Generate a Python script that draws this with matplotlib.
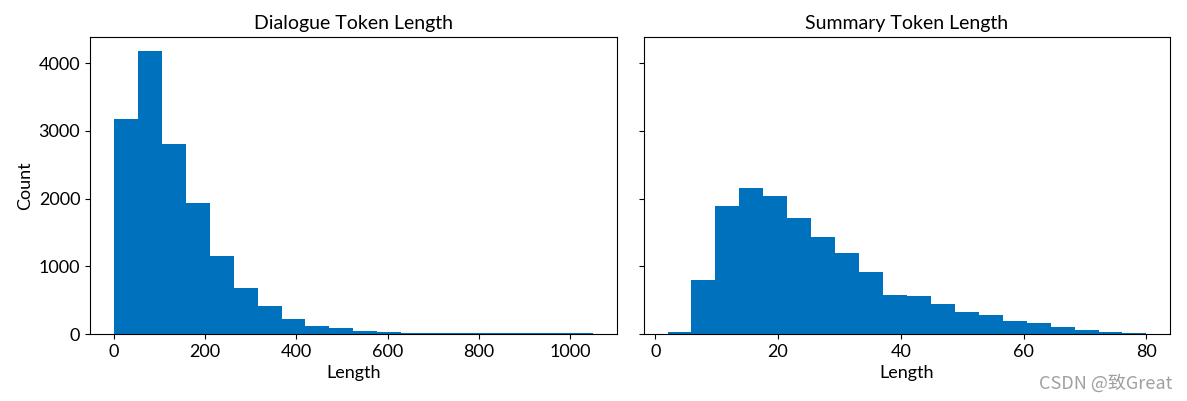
import matplotlib
matplotlib.use("Agg")
import matplotlib.pyplot as plt
from matplotlib.ticker import MultipleLocator
import numpy as np

plt.rcParams["font.family"] = ["Lato", "DejaVu Sans"]

# histogram bins and counts
dialogue_edges = np.linspace(0, 1050, 21)
dialogue_counts = [3169, 4177, 2800, 1938, 1151, 674, 409, 217, 113, 84,
                   44, 30, 18, 14, 12, 11, 10, 10, 9, 9]

summary_edges = np.linspace(2, 80, 21)
summary_counts = [34, 797, 1889, 2155, 2037, 1712, 1432, 1196, 915, 576,
                  561, 438, 320, 280, 197, 157, 103, 54, 25, 10]

titles = ["Dialogue Token Length", "Summary Token Length"]
bar_color = "#0072BD"

fig, axes = plt.subplots(1, 2, figsize=(11.87, 4.01), dpi=100, sharey=True)
fig.subplots_adjust(left=0.0758, right=0.986, bottom=0.167, top=0.908, wspace=0.051)

for ax, edges, counts, title in zip(axes, [dialogue_edges, summary_edges],
                                    [dialogue_counts, summary_counts], titles):
    ax.hist(edges[:-1], bins=edges, weights=counts, color=bar_color)
    ax.set_title(title, fontsize=14)
    ax.set_xlabel("Length", fontsize=13)
    ax.tick_params(labelsize=13)

axes[0].xaxis.set_major_locator(MultipleLocator(200))
axes[1].xaxis.set_major_locator(MultipleLocator(20))
axes[0].yaxis.set_major_locator(MultipleLocator(1000))
axes[0].set_ylabel("Count", fontsize=13)

fig.text(0.988, 0.02, "CSDN @致Great", ha="right", va="bottom", fontsize=13,
         color="#a0a0a0", family=["Noto Sans CJK SC", "DejaVu Sans"])

fig.savefig("out.png", dpi=100)
